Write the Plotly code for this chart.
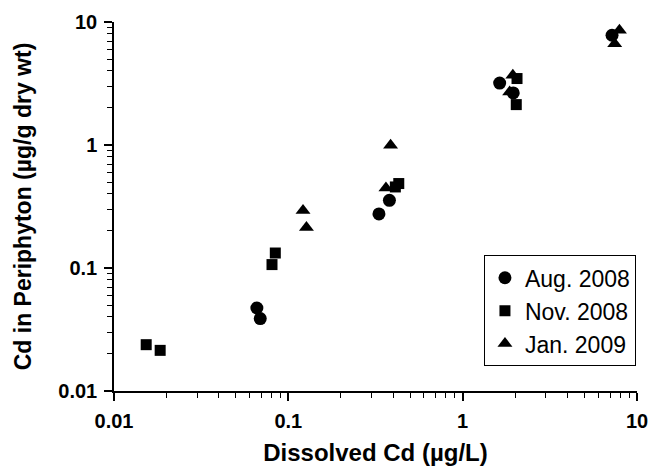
import plotly.graph_objects as go

# Data (Dissolved Cd µg/L, Cd in periphyton µg/g dry wt)
aug_x = [0.066, 0.069, 0.331, 0.380, 1.63, 1.95, 7.19]
aug_y = [0.0473, 0.0388, 0.275, 0.355, 3.19, 2.65, 7.80]

nov_x = [0.0153, 0.0184, 0.0806, 0.0842, 0.411, 0.430, 2.05, 2.03]
nov_y = [0.0238, 0.0214, 0.1066, 0.1324, 0.456, 0.486, 3.47, 2.13]

jan_x = [0.1214, 0.127, 0.363, 0.386, 1.94, 1.86, 7.93, 7.45]
jan_y = [0.294, 0.213, 0.447, 0.995, 3.69, 2.70, 8.57, 6.67]

tick_vals = [0.01, 0.1, 1, 10]
tick_text = ["0.01", "0.1", "1", "10"]

FONT = "Liberation Sans, Arial, sans-serif"

series = [
    ("Aug. 2008", aug_x, aug_y, "circle", 13),
    ("Nov. 2008", nov_x, nov_y, "square", 11),
    ("Jan. 2009", jan_x, jan_y, "triangle-up", 13),
]

fig = go.Figure()
for i, (name, xs, ys, sym, sz) in enumerate(series):
    fig.add_trace(go.Scatter(
        x=xs, y=ys, mode="markers", name=name, legendgroup=name,
        marker=dict(symbol=sym, size=sz, color="black", line=dict(width=0)),
    ))

axis_common = dict(
    type="log", range=[-2, 1], showgrid=False, zeroline=False,
    showline=True, linecolor="black", linewidth=1.5,
    ticks="outside", ticklen=8, tickwidth=1.5, tickcolor="black",
    tickvals=tick_vals, ticktext=tick_text, automargin=False,
    ticklabelstandoff=3,
    tickfont=dict(family=FONT, size=20, color="black", weight="bold"),
    minor=dict(ticks="outside", ticklen=5, tickwidth=1, tickcolor="black", dtick="D1", showgrid=False),
)

fig.update_xaxes(**axis_common,
                 title=dict(text="Dissolved Cd (\u00b5g/L)", standoff=13,
                            font=dict(family=FONT, size=24, color="black", weight="bold")))
fig.update_yaxes(**axis_common,
                 title=dict(text="Cd in Periphyton (\u00b5g/g dry wt)", standoff=20,
                            font=dict(family=FONT, size=23, color="black", weight="bold")))

fig.update_layout(
    width=651, height=466,
    margin=dict(l=114, r=14, t=22, b=75),
    paper_bgcolor="white", plot_bgcolor="white",
    showlegend=True,
    legend=dict(
        x=0.998, xanchor="right", y=0.067, yanchor="bottom",
        bordercolor="black", borderwidth=1, bgcolor="white",
        font=dict(family=FONT, size=23, color="black"),
        traceorder="grouped", tracegroupgap=0,
        itemwidth=30,
    ),
)

fig.write_html(
    "out.html",
    config={"displayModeBar": False},
    post_script="document.body.style.margin='0';document.body.style.padding='0';document.body.style.overflow='hidden';",
)
